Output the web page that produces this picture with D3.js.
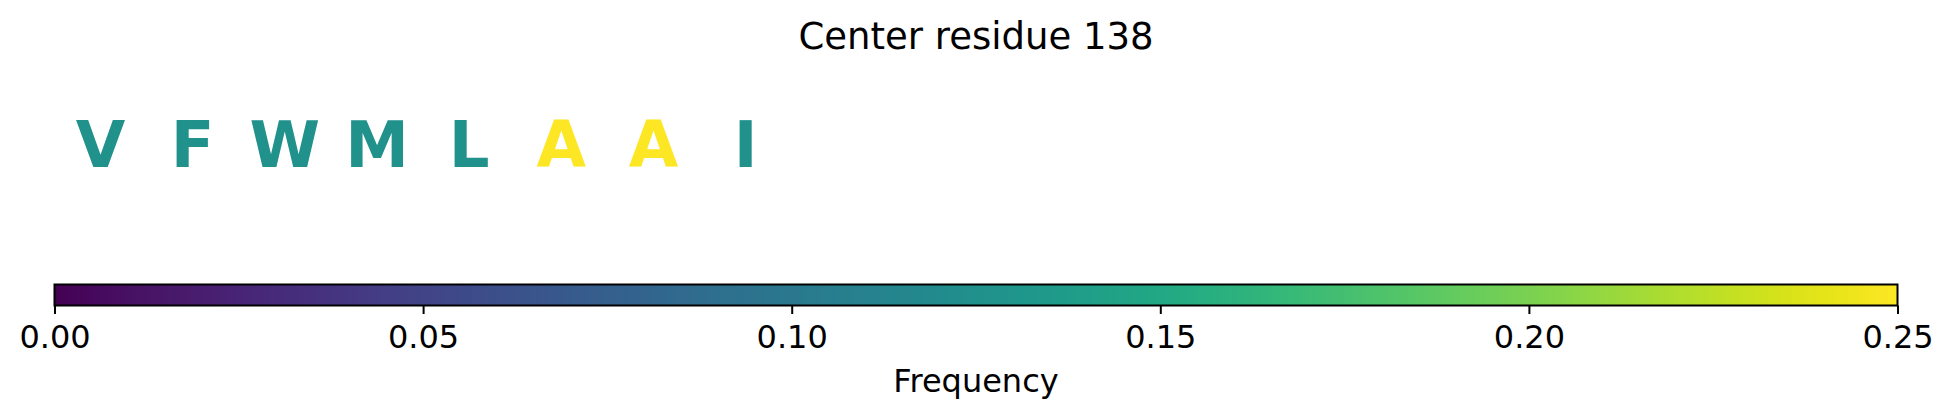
<!DOCTYPE html>
<html>
<head>
<meta charset="utf-8">
<script src="https://cdn.jsdelivr.net/npm/d3@7"></script>
<style>
  html, body { margin: 0; padding: 0; background: #fff; }
  svg { display: block; }
  text { font-family: "DejaVu Sans", sans-serif; }
</style>
</head>
<body>
<svg id="chart" width="1952" height="416"></svg>
<script>
// ---- data ----
const title = "Center residue 138";
const residues = ["V", "F", "W", "M", "L", "A", "A", "I"];
const frequencies = [0.125, 0.125, 0.125, 0.125, 0.125, 0.25, 0.25, 0.125];
const colorDomain = [0, 0.25];
const tickValues = [0, 0.05, 0.10, 0.15, 0.20, 0.25];
const colorbarLabel = "Frequency";
const windowSlots = 20;

// ---- layout ----
const W = 1952, H = 416;
const left = 54.5, right = 1897.5;
const barTop = 284.5, barH = 21;
const letterBaseline = 166.5;

const svg = d3.select("#chart");
const x = d3.scaleLinear().domain([0, windowSlots]).range([left, right]);
const color = d3.scaleSequential(d3.interpolateViridis).domain(colorDomain);
const cx = d3.scaleLinear().domain(colorDomain).range([left, right]);

// title
svg.append("text")
  .attr("x", (left + right) / 2)
  .attr("y", 49)
  .attr("text-anchor", "middle")
  .style("font-size", "37px")
  .attr("fill", "#000")
  .text(title);

// residue letters
svg.append("g").selectAll("text")
  .data(residues)
  .join("text")
  .attr("x", (d, i) => x(i + 0.5))
  .attr("y", letterBaseline)
  .attr("text-anchor", "middle")
  .style("font-size", "64px")
  .style("font-weight", "bold")
  .attr("fill", (d, i) => color(frequencies[i]))
  .text(d => d);

// colorbar gradient
const defs = svg.append("defs");
const grad = defs.append("linearGradient").attr("id", "viridis")
  .attr("x1", "0%").attr("x2", "100%").attr("y1", "0%").attr("y2", "0%");
d3.range(0, 1.0001, 0.02).forEach(t => {
  grad.append("stop").attr("offset", (t * 100) + "%")
    .attr("stop-color", d3.interpolateViridis(t));
});

svg.append("rect")
  .attr("x", left).attr("y", barTop)
  .attr("width", right - left).attr("height", barH)
  .attr("fill", "url(#viridis)");

// axis
const axisG = svg.append("g")
  .attr("transform", `translate(0,${barTop + barH})`)
  .call(d3.axisBottom(cx).tickValues(tickValues).tickFormat(d3.format(".2f")).tickSize(8.5).tickPadding(11));
axisG.select(".domain").remove();
axisG.selectAll(".tick line").attr("stroke", "#000").attr("stroke-width", 2);
axisG.selectAll(".tick text")
  .style("font-size", "32px")
  .style("font-family", "'DejaVu Sans', sans-serif")
  .attr("fill", "#000");

// outline
svg.append("rect")
  .attr("x", left).attr("y", barTop)
  .attr("width", right - left).attr("height", barH)
  .attr("fill", "none")
  .attr("stroke", "#000")
  .attr("stroke-width", 2);

// colorbar label
svg.append("text")
  .attr("x", (left + right) / 2)
  .attr("y", 392)
  .attr("text-anchor", "middle")
  .style("font-size", "32px")
  .attr("fill", "#000")
  .text(colorbarLabel);
</script>
</body>
</html>
